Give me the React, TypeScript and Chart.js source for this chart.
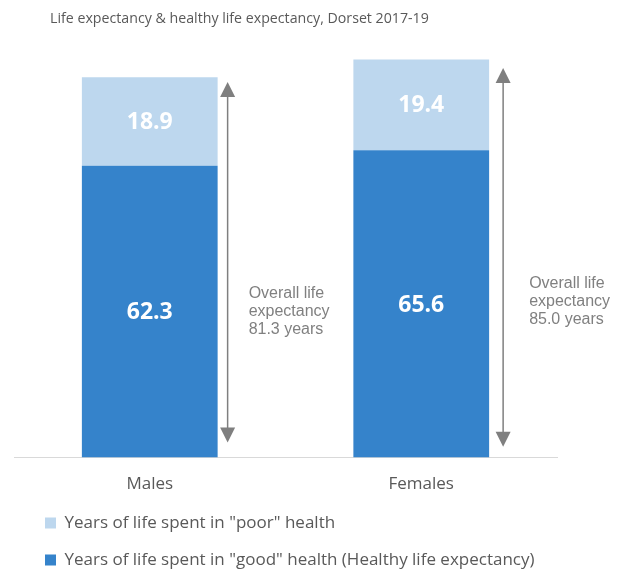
import { useEffect, useRef } from 'react';
import { Chart, registerables } from 'chart.js';

Chart.register(...registerables);

// ---- data ----
const titleText = 'Life expectancy & healthy life expectancy, Dorset 2017-19';
const categories = ['Males', 'Females'];
const goodHealth = [62.3, 65.6];
const poorHealth = [18.9, 19.4];
const overallLE = ['81.3', '85.0'];
const goodLabel = 'Years of life spent in "good" health (Healthy life expectancy)';
const poorLabel = 'Years of life spent in "poor" health';
// arrow extents (in years on the value axis)
const arrowTop = [80.2, 83.2];
const arrowBottom = [3.2, 2.3];
// annotation anchor (value of first text baseline)
const noteValue = [34.1, 36.3];

// ---- styles ----
const DARK = '#3583CB';
const LIGHT = '#BDD7EE';
const TEXT = '#595959';
const ARROW = '#7F7F7F';
const arrowOffsetX = [10, 14];
const noteOffsetX = [21, 26];

const customPlugin = {
  id: 'custom',
  afterLayout(chart: any) {
    if (chart.legend) {
      chart.legend.left = 25;
      chart.legend.top = 494.5;
    }
    if (chart.titleBlock) chart.titleBlock.left = 50;
  },
  afterDatasetsDraw(chart: any) {
    const ctx = chart.ctx;
    const ys = chart.scales.y;
    ctx.save();
    // data labels
    ctx.font = 'bold 23px "Open Sans"';
    ctx.fillStyle = '#FFFFFF';
    ctx.textAlign = 'center';
    ctx.textBaseline = 'middle';
    chart.data.datasets.forEach((ds: any, di: number) => {
      const meta = chart.getDatasetMeta(di);
      meta.data.forEach((bar: any, i: number) => {
        const { x, y, base } = bar.getProps(['x', 'y', 'base'], true);
        ctx.fillText(Number(ds.data[i]).toFixed(1), x, (y + base) / 2 + 1);
      });
    });
    // arrows + notes
    const meta0 = chart.getDatasetMeta(0);
    categories.forEach((_c, i) => {
      const bar = meta0.data[i];
      const { x, width } = bar.getProps(['x', 'width'], true);
      const ax = x + width / 2 + arrowOffsetX[i];
      const yT = ys.getPixelForValue(arrowTop[i]);
      const yB = ys.getPixelForValue(arrowBottom[i]);
      const hw = 7.5;
      const hh = 15;
      ctx.strokeStyle = ARROW;
      ctx.fillStyle = ARROW;
      ctx.lineWidth = 1.5;
      ctx.beginPath();
      ctx.moveTo(ax, yT + hh - 1);
      ctx.lineTo(ax, yB - hh + 1);
      ctx.stroke();
      ctx.beginPath();
      ctx.moveTo(ax, yT);
      ctx.lineTo(ax - hw, yT + hh);
      ctx.lineTo(ax + hw, yT + hh);
      ctx.closePath();
      ctx.fill();
      ctx.beginPath();
      ctx.moveTo(ax, yB);
      ctx.lineTo(ax - hw, yB - hh);
      ctx.lineTo(ax + hw, yB - hh);
      ctx.closePath();
      ctx.fill();

      ctx.font = '16px "Liberation Sans"';
      ctx.fillStyle = '#808080';
      ctx.textAlign = 'left';
      ctx.textBaseline = 'alphabetic';
      const tx = ax + noteOffsetX[i];
      const ty = ys.getPixelForValue(noteValue[i]);
      const lines = ['Overall life', 'expectancy', overallLE[i] + ' years'];
      lines.forEach((l, k) => ctx.fillText(l, tx, ty + k * 18));
    });
    ctx.restore();
  },
};

export default function App() {
  const ref = useRef<HTMLCanvasElement>(null);
  useEffect(() => {
    const chart = new Chart(ref.current as HTMLCanvasElement, {
      type: 'bar',
      data: {
        labels: categories,
        datasets: [
          { label: goodLabel, data: goodHealth, backgroundColor: DARK, borderWidth: 0 },
          { label: poorLabel, data: poorHealth, backgroundColor: LIGHT, borderWidth: 0 },
        ],
      },
      options: {
        responsive: false,
        animation: false,
        layout: { padding: { top: 0, left: 14, right: 66, bottom: 0 } },
        datasets: { bar: { categoryPercentage: 0.5, barPercentage: 1 } },
        scales: {
          x: {
            stacked: true,
            grid: { display: false, drawTicks: false },
            border: { display: true, color: '#D9D9D9', width: 1 },
            ticks: { color: TEXT, font: { family: 'Open Sans', size: 17 }, padding: 16 },
          },
          y: { stacked: true, display: false, min: 0, max: 90 },
        },
        plugins: {
          title: {
            display: true,
            text: titleText,
            align: 'start',
            color: TEXT,
            font: { family: 'Open Sans', size: 14.2, weight: 'normal', lineHeight: 1.2 },
            padding: { top: 10, bottom: 9 },
          },
          legend: {
            display: true,
            position: 'bottom',
            align: 'start',
            reverse: true,
            maxHeight: 60,
            labels: {
              color: TEXT,
              font: { family: 'Open Sans', size: 17 },
              boxWidth: 11,
              boxHeight: 11,
              padding: 20,
            },
          },
          tooltip: { enabled: false },
        },
      },
      plugins: [customPlugin],
    } as any);
    return () => chart.destroy();
  }, []);
  return (
    <div style={{ position: 'absolute', left: 0, top: 0, width: 623, height: 570 }}>
      <canvas ref={ref} width={623} height={570} />
    </div>
  );
}
